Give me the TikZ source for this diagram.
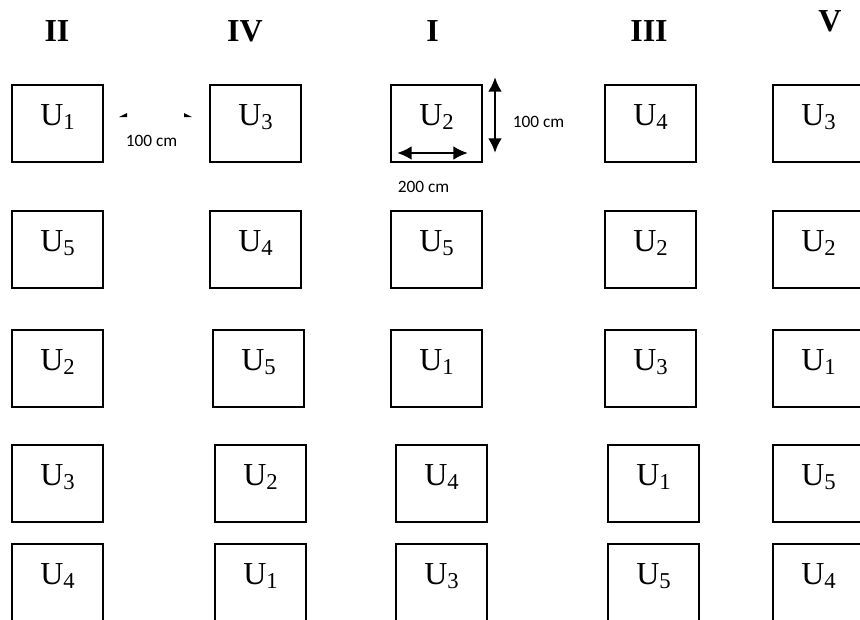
\documentclass[tikz,border=0pt]{standalone}
\usepackage{fontspec}
\setmainfont{Liberation Serif}
\newfontfamily\calibri{Carlito}
\usetikzlibrary{arrows.meta}
\newcommand{\Ut}[1]{U\raisebox{-3pt}{\fontsize{17}{17}\selectfont #1}}

\begin{document}
\begin{tikzpicture}[x=0.75pt,y=-0.75pt,
  plotbox/.style={draw,line width=1.1pt,minimum width=68.25pt,minimum height=57.75pt,inner sep=0pt,
                  text height=16.5pt,text depth=14.25pt,font=\fontsize{24}{24}\selectfont},
  rep/.style={font=\fontsize{24}{24}\selectfont\bfseries},
  cmlab/.style={font=\calibri\fontsize{13}{13}\selectfont},
  dimarrow/.style={line width=2.2pt,{Latex[length=11pt,width=10.5pt]}-{Latex[length=11pt,width=10.5pt]}}]
\useasboundingbox (0,0) rectangle (860,619);
\clip (0,0) rectangle (860,619);
\node[rep] (repII)  at (57,31.5)  {II};
\node[rep] (repIV)  at (245,31.5) {IV};
\node[rep] (repI)   at (432.5,31.5) {I};
\node[rep] (repIII) at (649,31.5) {III};
\node[rep] (repV)   at (830,21)   {V};
\node[plotbox] (II1) at (57.5,123.5) {\Ut{1}};
\node[plotbox] (II2) at (57.5,249.5) {\Ut{5}};
\node[plotbox] (II3) at (57.5,368.5) {\Ut{2}};
\node[plotbox] (II4) at (57.5,483.5) {\Ut{3}};
\node[plotbox] (II5) at (57.5,582.5) {\Ut{4}};
\node[plotbox] (IV1) at (255.5,123.5) {\Ut{3}};
\node[plotbox] (IV2) at (255.5,249.5) {\Ut{4}};
\node[plotbox] (IV3) at (258.5,368.5) {\Ut{5}};
\node[plotbox] (IV4) at (260.5,483.5) {\Ut{2}};
\node[plotbox] (IV5) at (260.5,582.5) {\Ut{1}};
\node[plotbox] (I1) at (436.5,123.5) {\Ut{2}};
\node[plotbox] (I2) at (436.5,249.5) {\Ut{5}};
\node[plotbox] (I3) at (436.5,368.5) {\Ut{1}};
\node[plotbox] (I4) at (441.5,483.5) {\Ut{4}};
\node[plotbox] (I5) at (441.5,582.5) {\Ut{3}};
\node[plotbox] (III1) at (650.5,123.5) {\Ut{4}};
\node[plotbox] (III2) at (650.5,249.5) {\Ut{2}};
\node[plotbox] (III3) at (650.5,368.5) {\Ut{3}};
\node[plotbox] (III4) at (653.5,483.5) {\Ut{1}};
\node[plotbox] (III5) at (653.5,582.5) {\Ut{5}};
\node[plotbox] (V1) at (818.5,123.5) {\Ut{3}};
\node[plotbox] (V2) at (818.5,249.5) {\Ut{2}};
\node[plotbox] (V3) at (818.5,368.5) {\Ut{1}};
\node[plotbox] (V4) at (818.5,483.5) {\Ut{5}};
\node[plotbox] (V5) at (818.5,582.5) {\Ut{4}};
\node[cmlab] (gap)   at (151.5,140.5) {100 cm};
\node[cmlab] (len)   at (538.5,122)   {100 cm};
\node[cmlab] (wid)   at (423.5,187)   {200 cm};
\coordinate (vt) at (495,77);
\coordinate (vb) at (495,153);
\coordinate (hl) at (397,153);
\coordinate (hr) at (468,153);
\draw[dimarrow] (vt) -- (vb);
\draw[dimarrow] (hl) -- (hr);
\fill (119,117) -- (127,117) -- (127,113) -- cycle;
\fill (184,113) -- (184,117) -- (192,117) -- cycle;
\end{tikzpicture}
\end{document}
